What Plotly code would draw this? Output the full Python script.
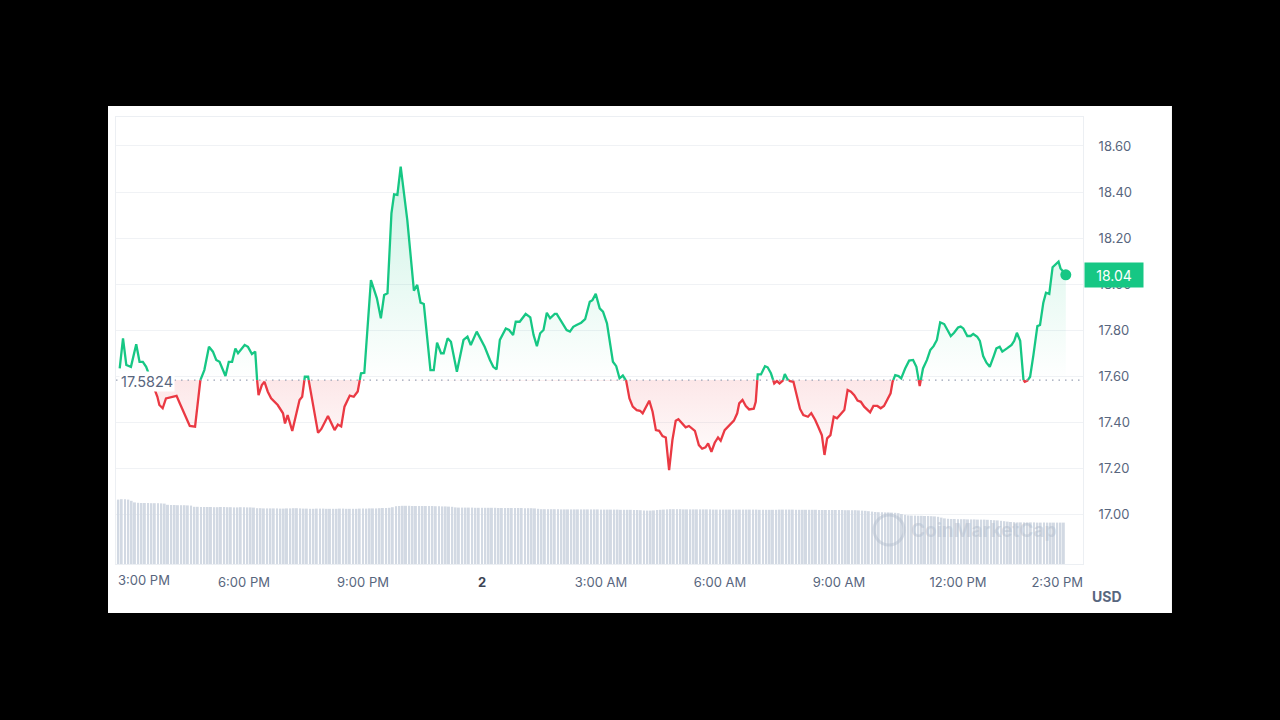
import plotly.graph_objects as go
import pandas as pd
from datetime import datetime, timedelta

# ---------------- data ----------------
START_DAY = "2024-06-01"
BASE = 17.5824          # opening price (reference line)
LAST_PRICE = "18.04"

times = [
    "14:52", "14:57", "15:02", "15:09", "15:17", "15:22", "15:27", "15:32", "15:49", "15:52",
    "15:57", "16:02", "16:10", "16:18", "16:23", "16:30", "16:38", "16:46", "16:53", "17:00",
    "17:07", "17:13", "17:18", "17:23", "17:32", "17:37", "17:42", "17:47", "17:51", "18:01",
    "18:06", "18:12", "18:17", "18:20", "18:22", "18:27", "18:31", "18:36", "18:41", "18:51",
    "18:59", "19:02", "19:06", "19:13", "19:19", "19:24", "19:28", "19:32", "19:37", "19:42",
    "19:52", "19:57", "20:07", "20:17", "20:22", "20:27", "20:32", "20:40", "20:46", "20:52",
    "20:57", "21:02", "21:12", "21:21", "21:27", "21:32", "21:37", "21:43", "21:47", "21:52",
    "21:57", "22:07", "22:14", "22:17", "22:22", "22:27", "22:32", "22:42", "22:47", "22:52",
    "22:58", "23:02", "23:08", "23:13", "23:22", "23:27", "23:32", "23:38", "23:43", "23:52",
    "23:58", "00:04", "00:12", "00:17", "00:22", "00:27", "00:36", "00:41", "00:47", "00:51",
    "00:57", "01:06", "01:13", "01:18", "01:23", "01:28", "01:33", "01:38", "01:43", "01:50",
    "01:53", "02:00", "02:08", "02:13", "02:18", "02:23", "02:30", "02:36", "02:38", "02:43",
    "02:47", "02:52", "02:58", "03:03", "03:09", "03:13", "03:18", "03:23", "03:28", "03:33",
    "03:38", "03:43", "03:48", "03:54", "03:59", "04:03", "04:13", "04:18", "04:23", "04:28",
    "04:33", "04:38", "04:43", "04:48", "04:53", "04:57", "05:03", "05:08", "05:13", "05:22",
    "05:28", "05:33", "05:38", "05:42", "05:47", "05:52", "05:57", "06:01", "06:07", "06:15",
    "06:21", "06:26", "06:29", "06:34", "06:39", "06:44", "06:51", "06:54", "06:57", "07:02",
    "07:08", "07:12", "07:17", "07:22", "07:26", "07:30", "07:35", "07:38", "07:42", "07:46",
    "07:51", "07:56", "08:01", "08:06", "08:13", "08:18", "08:24", "08:29", "08:34", "08:38",
    "08:42", "08:47", "08:52", "08:57", "09:04", "09:08", "09:13", "09:18", "09:23", "09:28",
    "09:33", "09:38", "09:47", "09:52", "09:58", "10:03", "10:08", "10:13", "10:18", "10:21",
    "10:25", "10:30", "10:34", "10:40", "10:46", "10:52", "10:57", "11:02", "11:07", "11:13",
    "11:18", "11:23", "11:28", "11:33", "11:39", "11:44", "11:49", "11:54", "12:00", "12:04",
    "12:08", "12:14", "12:19", "12:23", "12:29", "12:33", "12:38", "12:43", "12:48", "12:54",
    "12:58", "13:03", "13:07", "13:14", "13:21", "13:25", "13:29", "13:34", "13:38", "13:41",
    "13:45", "13:49", "13:54", "14:00", "14:04", "14:09", "14:13", "14:18", "14:23", "14:32",
    "14:35", "14:43",
]

prices = [
    17.633, 17.764, 17.648, 17.640, 17.738, 17.662, 17.662, 17.640, 17.510, 17.474,
    17.460, 17.503, 17.507, 17.514, 17.481, 17.438, 17.383, 17.380, 17.575, 17.626,
    17.727, 17.706, 17.670, 17.662, 17.600, 17.662, 17.662, 17.720, 17.699, 17.735,
    17.727, 17.696, 17.706, 17.575, 17.517, 17.561, 17.575, 17.532, 17.503, 17.474,
    17.438, 17.394, 17.430, 17.361, 17.438, 17.496, 17.510, 17.597, 17.597, 17.510,
    17.353, 17.370, 17.426, 17.365, 17.389, 17.381, 17.467, 17.515, 17.510, 17.533,
    17.612, 17.614, 18.017, 17.938, 17.851, 17.952, 17.960, 18.307, 18.390, 18.387,
    18.510, 18.278, 18.047, 17.971, 17.996, 17.919, 17.913, 17.626, 17.626, 17.745,
    17.699, 17.699, 17.764, 17.749, 17.619, 17.687, 17.757, 17.771, 17.735, 17.793,
    17.757, 17.727, 17.670, 17.640, 17.629, 17.757, 17.807, 17.800, 17.778, 17.836,
    17.836, 17.870, 17.855, 17.778, 17.730, 17.786, 17.800, 17.875, 17.851, 17.870,
    17.870, 17.836, 17.800, 17.793, 17.814, 17.822, 17.832, 17.847, 17.870, 17.923,
    17.930, 17.957, 17.894, 17.880, 17.829, 17.757, 17.662, 17.643, 17.590, 17.602,
    17.580, 17.503, 17.467, 17.452, 17.449, 17.438, 17.493, 17.445, 17.365, 17.362,
    17.339, 17.333, 17.191, 17.322, 17.406, 17.412, 17.391, 17.377, 17.383, 17.362,
    17.300, 17.284, 17.290, 17.307, 17.271, 17.310, 17.333, 17.319, 17.365, 17.387,
    17.406, 17.438, 17.481, 17.496, 17.470, 17.455, 17.458, 17.488, 17.607, 17.607,
    17.643, 17.638, 17.612, 17.568, 17.578, 17.568, 17.580, 17.609, 17.586, 17.578,
    17.575, 17.517, 17.457, 17.430, 17.423, 17.439, 17.409, 17.376, 17.343, 17.257,
    17.329, 17.343, 17.423, 17.416, 17.438, 17.452, 17.539, 17.532, 17.517, 17.493,
    17.488, 17.467, 17.442, 17.470, 17.470, 17.460, 17.470, 17.499, 17.525, 17.575,
    17.604, 17.600, 17.590, 17.633, 17.667, 17.670, 17.640, 17.557, 17.633, 17.670,
    17.713, 17.730, 17.757, 17.833, 17.826, 17.800, 17.774, 17.788, 17.811, 17.815,
    17.807, 17.774, 17.774, 17.783, 17.771, 17.753, 17.687, 17.658, 17.640, 17.687,
    17.720, 17.727, 17.706, 17.720, 17.735, 17.753, 17.788, 17.753, 17.586, 17.575,
    17.580, 17.597, 17.691, 17.817, 17.822, 17.919, 17.962, 17.957, 18.073, 18.097,
    18.068, 18.040,
]

# 5-minute volume bars (millions USD), starting 14:45
VOLUME_START = "2024-06-01 14:45"
volume = [
    31.8, 32.2, 32.4, 32.4, 32.2, 31.6, 30.8, 30.6, 30.5, 30.5, 30.5, 30.4, 30.4, 30.4, 30.3, 30.2, 29.6, 29.5, 29.5, 29.4, 29.4, 29.4, 29.3, 29.2,
    28.6, 28.6, 28.5, 28.5, 28.5, 28.5, 28.4, 28.4, 28.5, 28.5, 28.4, 28.4, 28.3, 28.3, 28.4, 28.4, 28.3, 28.3, 28.2, 27.9, 27.9, 27.8, 27.8, 27.8,
    27.8, 27.8, 27.7, 27.7, 27.8, 27.8, 27.9, 27.9, 27.8, 27.7, 27.7, 27.6, 27.6, 27.7, 27.7, 27.7, 27.6, 27.6, 27.6, 27.6, 27.7, 27.7, 27.6, 27.6,
    27.6, 27.6, 27.7, 27.7, 27.7, 27.8, 27.8, 27.8, 27.9, 28.0, 28.0, 28.1, 28.4, 28.9, 29.0, 29.1, 29.1, 29.1, 29.0, 29.0, 29.0, 29.0, 29.0, 29.0,
    29.0, 28.9, 28.9, 28.8, 28.8, 28.7, 28.6, 28.3, 28.2, 28.2, 28.2, 28.2, 28.2, 28.1, 28.1, 28.1, 28.1, 28.1, 28.1, 28.1, 28.0, 28.0, 28.0, 28.0,
    28.0, 28.0, 28.0, 28.0, 27.9, 27.9, 27.9, 27.8, 27.6, 27.4, 27.4, 27.4, 27.4, 27.4, 27.4, 27.3, 27.3, 27.3, 27.3, 27.3, 27.3, 27.3, 27.3, 27.3,
    27.3, 27.3, 27.3, 27.2, 27.2, 27.2, 27.2, 27.2, 27.2, 27.1, 27.1, 27.1, 27.1, 27.0, 27.0, 26.9, 26.8, 26.7, 26.7, 26.8, 27.0, 27.1, 27.2, 27.3,
    27.4, 27.4, 27.4, 27.4, 27.3, 27.3, 27.3, 27.3, 27.3, 27.3, 27.3, 27.3, 27.3, 27.2, 27.2, 27.2, 27.2, 27.2, 27.2, 27.2, 27.2, 27.2, 27.2, 27.2,
    27.2, 27.2, 27.2, 27.1, 27.1, 27.1, 27.1, 27.1, 27.1, 27.2, 27.2, 27.2, 27.2, 27.2, 27.1, 27.1, 27.1, 27.1, 27.1, 27.1, 27.1, 27.0, 27.0, 27.0,
    27.0, 27.0, 27.0, 27.0, 27.0, 26.9, 26.9, 26.9, 26.9, 26.8, 26.7, 26.6, 26.4, 26.2, 26.0, 25.9, 25.9, 25.8, 25.8, 25.7, 25.6, 25.4, 25.0, 24.6,
    24.3, 24.2, 24.2, 24.1, 24.1, 24.0, 24.0, 23.9, 23.8, 23.6, 23.2, 22.8, 22.6, 22.5, 22.5, 22.4, 22.4, 22.4, 22.3, 22.3, 22.3, 22.2, 22.2, 22.2,
    22.1, 22.0, 21.9, 21.8, 21.6, 21.4, 21.2, 21.0, 20.9, 20.8, 20.8, 20.8, 20.8, 20.8, 20.8, 20.7, 20.7, 20.7, 20.7, 20.7, 20.7, 20.7, 20.7, 20.7,
]

price_ticks = [17.0, 17.2, 17.4, 17.6, 17.8, 18.0, 18.2, 18.4, 18.6]
x_tick_times = ["2024-06-01 18:00", "2024-06-01 21:00", "2024-06-02 00:00", "2024-06-02 03:00",
                "2024-06-02 06:00", "2024-06-02 09:00", "2024-06-02 12:00", "2024-06-02 14:30"]
x_tick_labels = ["6:00 PM", "9:00 PM", "<span style='color:#3d4555'><b>2</b></span>", "3:00 AM",
                 "6:00 AM", "9:00 AM", "12:00 PM", "2:30 PM"]
first_tick_label = "3:00 PM"

# ---------------- styles ----------------
GREEN = "#16c784"
RED = "#ea3943"
GREY = "#58667e"
FONT = "Inter"


def to_datetimes(hhmm_list, start_day):
    out = []
    day = datetime.fromisoformat(start_day)
    prev = None
    for s in hhmm_list:
        h, m = map(int, s.split(":"))
        if prev is not None and (h, m) < prev:
            day += timedelta(days=1)
        prev = (h, m)
        out.append(day.replace(hour=h, minute=m))
    return out


t_price = to_datetimes(times, START_DAY)

# insert baseline crossings so the line can change colour exactly at the baseline
xs, ys = [], []
for i, (t, p) in enumerate(zip(t_price, prices)):
    if i > 0:
        t0, p0 = t_price[i - 1], prices[i - 1]
        if (p0 - BASE) * (p - BASE) < 0:
            f = (BASE - p0) / (p - p0)
            xs.append(t0 + (t - t0) * f)
            ys.append(BASE)
    xs.append(t)
    ys.append(p)

green_line = [y if y >= BASE else None for y in ys]
red_line = [y if y <= BASE else None for y in ys]
green_fill = [max(y, BASE) for y in ys]
red_fill = [min(y, BASE) for y in ys]
base_arr = [BASE] * len(xs)

t_vol = pd.date_range(VOLUME_START, periods=len(volume), freq="5min")

fig = go.Figure()

# volume bars on a hidden secondary axis
fig.add_trace(go.Bar(x=t_vol, y=volume, yaxis="y2", marker=dict(color="#d2d9e3", line=dict(width=0)),
                     hoverinfo="skip", showlegend=False))

# fills
fig.add_trace(go.Scatter(x=xs, y=base_arr, mode="lines", line=dict(width=0), hoverinfo="skip", showlegend=False))
fig.add_trace(go.Scatter(x=xs, y=green_fill, mode="lines", line=dict(width=0), fill="tonexty",
                         fillgradient=dict(type="vertical", start=BASE, stop=18.52,
                                           colorscale=[[0, "rgba(22,199,132,0.0)"], [1, "rgba(22,199,132,0.22)"]]),
                         hoverinfo="skip", showlegend=False))
fig.add_trace(go.Scatter(x=xs, y=base_arr, mode="lines", line=dict(width=0), hoverinfo="skip", showlegend=False))
fig.add_trace(go.Scatter(x=xs, y=red_fill, mode="lines", line=dict(width=0), fill="tonexty",
                         fillgradient=dict(type="vertical", start=17.19, stop=BASE,
                                           colorscale=[[0, "rgba(234,57,67,0.0)"], [1, "rgba(234,57,67,0.12)"]]),
                         hoverinfo="skip", showlegend=False))

# coloured price line
fig.add_trace(go.Scatter(x=xs, y=green_line, mode="lines", line=dict(color=GREEN, width=2.3),
                         connectgaps=False, showlegend=False))
fig.add_trace(go.Scatter(x=xs, y=red_line, mode="lines", line=dict(color=RED, width=2.3),
                         connectgaps=False, showlegend=False))
# last price dot
fig.add_trace(go.Scatter(x=[t_price[-1]], y=[prices[-1]], mode="markers",
                         marker=dict(color=GREEN, size=11), showlegend=False))

x_range = ["2024-06-01 14:46:24", "2024-06-02 15:09:00"]

fig.update_layout(
    width=1280, height=720,
    paper_bgcolor="black", plot_bgcolor="white",
    margin=dict(l=116, r=197, t=117, b=156, autoexpand=False),
    font=dict(family=FONT, color=GREY, size=13),
    bargap=0.4,
    showlegend=False,
    xaxis=dict(type="date", range=x_range, showgrid=False, zeroline=False,
               showline=True, linecolor="#eceff3", linewidth=1, mirror=True,
               tickvals=x_tick_times, ticktext=x_tick_labels, ticks="",
               tickfont=dict(family=FONT, size=13, color=GREY), ticklabelstandoff=6),
    yaxis=dict(side="right", range=[16.783, 18.726], tickvals=price_ticks,
               ticktext=[f"{v:.2f}" for v in price_ticks],
               showgrid=True, gridcolor="#f0f2f5", gridwidth=1, zeroline=False,
               showline=True, linecolor="#eceff3", linewidth=1, mirror=True, ticks="",
               tickfont=dict(family=FONT, size=13, color=GREY), ticklabelstandoff=12),
    yaxis2=dict(overlaying="y", range=[0, 223.5], visible=False),
)

# white card behind the chart
fig.add_shape(type="rect", xref="paper", yref="paper",
              x0=-0.00827, x1=1.0920, y0=-0.1096, y1=1.0246,
              fillcolor="white", line=dict(width=0), layer="below")

# dotted baseline
fig.add_shape(type="line", xref="paper", yref="y", x0=0, x1=1, y0=BASE, y1=BASE,
              line=dict(color="#9aa3b5", width=1.3, dash="1.5px,5px"), layer="above")

# watermark
fig.add_shape(type="circle", xref="paper", yref="paper", x0=0.7839, x1=0.8149, y0=0.0425, y1=0.1096,
              line=dict(color="rgba(175,186,202,0.45)", width=3), layer="above")
fig.add_annotation(text="<b>CoinMarketCap</b>", xref="paper", yref="paper", x=0.8966, y=0.076,
                   xanchor="center", yanchor="middle", showarrow=False,
                   font=dict(family=FONT, size=19, color="rgba(175,186,202,0.45)"))

# baseline label
fig.add_annotation(text=f"{BASE:.4f}", xref="paper", yref="y", x=0, y=BASE, xanchor="left", yanchor="middle",
                   xshift=3, yshift=-1, showarrow=False, bgcolor="white", borderpad=1,
                   font=dict(family=FONT, size=14.5, color=GREY))

# first x label (clamped to the left edge)
fig.add_annotation(text=first_tick_label, xref="paper", yref="paper", x=0, y=0, xanchor="left", yanchor="top",
                   yshift=-6, showarrow=False, font=dict(family=FONT, size=13, color=GREY))

# currency label
fig.add_annotation(text="<b>USD</b>", xref="paper", yref="paper", x=1.0072, y=-0.0738, xanchor="left",
                   yanchor="middle", showarrow=False, font=dict(family=FONT, size=14, color=GREY))

# current price badge
fig.add_annotation(text=LAST_PRICE, xref="paper", yref="y", x=1, y=prices[-1], xanchor="left", yanchor="middle",
                   xshift=1, showarrow=False, bgcolor=GREEN, width=54, height=20, borderpad=2, align="center",
                   font=dict(family=FONT, size=14, color="white"))

fig.write_html("out.html")
